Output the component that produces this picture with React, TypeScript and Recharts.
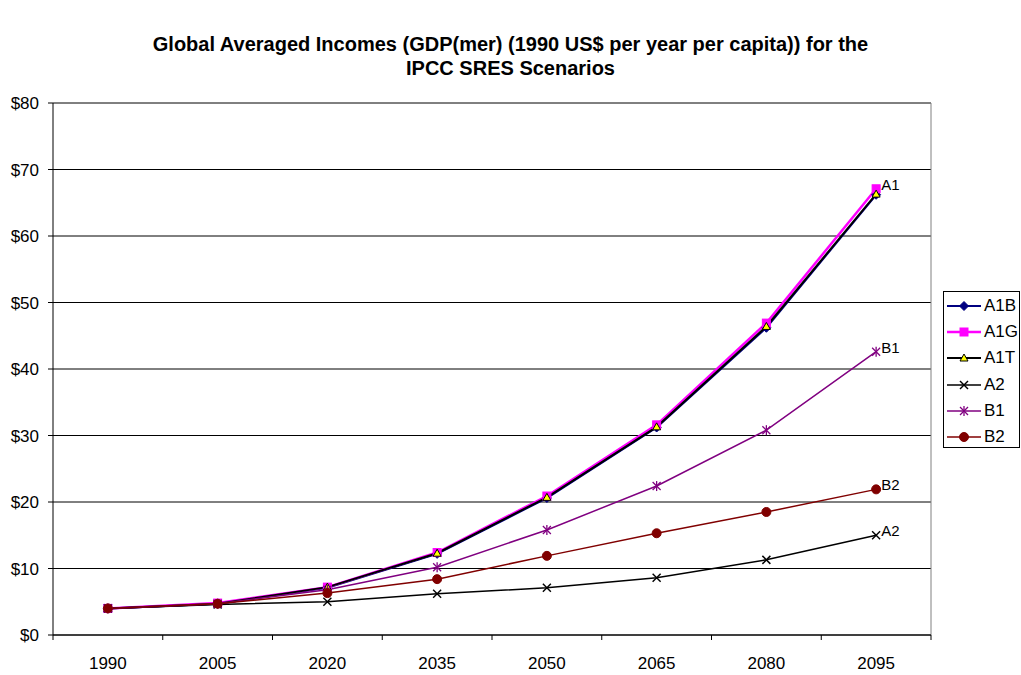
import React from "react";
import { LineChart, Line, XAxis, YAxis, CartesianGrid, ReferenceLine, LabelList } from "recharts";

const YEARS = ["1990", "2005", "2020", "2035", "2050", "2065", "2080", "2095"];
const A1B = [4.0, 4.7, 7.1, 12.2, 20.6, 31.2, 46.2, 66.2];
const A1G = [4.0, 4.8, 7.2, 12.4, 20.9, 31.6, 46.9, 67.1];
const A1T = [4.0, 4.7, 7.2, 12.3, 20.7, 31.3, 46.4, 66.3];
const A2 = [4.0, 4.6, 5.0, 6.2, 7.1, 8.6, 11.3, 15.0];
const B1 = [4.0, 4.7, 6.8, 10.2, 15.8, 22.4, 30.8, 42.6];
const B2 = [4.0, 4.7, 6.3, 8.4, 11.9, 15.3, 18.5, 21.9];
const Y_TICKS = [0, 10, 20, 30, 40, 50, 60, 70, 80];

const TITLE = [
  "Global Averaged Incomes (GDP(mer) (1990 US$ per year per capita)) for the",
  "IPCC SRES Scenarios",
];

type Kind = "diamond" | "square" | "triangle" | "x" | "star" | "circle";

const SERIES: { key: string; values: number[]; color: string; width: number; marker: Kind; label?: string }[] = [
  { key: "A1B", values: A1B, color: "#000080", width: 2, marker: "diamond" },
  { key: "A1G", values: A1G, color: "#FF00FF", width: 2.5, marker: "square", label: "A1" },
  { key: "A1T", values: A1T, color: "#000000", width: 2, marker: "triangle" },
  { key: "A2", values: A2, color: "#000000", width: 1.5, marker: "x", label: "A2" },
  { key: "B1", values: B1, color: "#800080", width: 1.5, marker: "star", label: "B1" },
  { key: "B2", values: B2, color: "#800000", width: 1.5, marker: "circle", label: "B2" },
];

const data = YEARS.map((_, i) => {
  const row: Record<string, number> = { x: i };
  SERIES.forEach((s) => (row[s.key] = s.values[i]));
  return row;
});

const X_TICKS = Array.from({ length: YEARS.length * 2 + 1 }, (_, i) => i / 2 - 0.5);

const FONT = "'Liberation Sans', Arial, sans-serif";

const Marker = ({ kind, cx, cy, color }: { kind: Kind; cx: number; cy: number; color: string }) => {
  if (cx == null || cy == null) return null;
  switch (kind) {
    case "diamond":
      return (
        <polygon
          points={`${cx},${cy - 4.5} ${cx + 4.5},${cy} ${cx},${cy + 4.5} ${cx - 4.5},${cy}`}
          fill={color}
          stroke={color}
        />
      );
    case "square":
      return <rect x={cx - 4} y={cy - 4} width={8} height={8} fill={color} stroke={color} />;
    case "triangle":
      return (
        <polygon
          points={`${cx},${cy - 4} ${cx + 4},${cy + 3} ${cx - 4},${cy + 3}`}
          fill="#FFFF00"
          stroke="#000"
          strokeWidth={1}
        />
      );
    case "x":
      return (
        <g stroke={color} strokeWidth={1.5}>
          <line x1={cx - 4} y1={cy - 4} x2={cx + 4} y2={cy + 4} />
          <line x1={cx - 4} y1={cy + 4} x2={cx + 4} y2={cy - 4} />
        </g>
      );
    case "star":
      return (
        <g stroke={color} strokeWidth={1.3}>
          <line x1={cx - 4} y1={cy - 4} x2={cx + 4} y2={cy + 4} />
          <line x1={cx - 4} y1={cy + 4} x2={cx + 4} y2={cy - 4} />
          <line x1={cx} y1={cy - 5} x2={cx} y2={cy + 5} />
        </g>
      );
    default:
      return <circle cx={cx} cy={cy} r={4.5} fill={color} stroke={color} />;
  }
};

const XTick = (props: any) => {
  const { x, y, payload } = props;
  const v = payload.value as number;
  if (Number.isInteger(v)) {
    return (
      <text x={x} y={y + 34} textAnchor="middle" fontSize={17} fill="#000" fontFamily={FONT}>
        {YEARS[v]}
      </text>
    );
  }
  return <line x1={x} y1={y} x2={x} y2={y + 5} stroke="#000" />;
};

export default function App() {
  return (
    <div style={{ position: "absolute", left: 0, top: 0, width: 1021, height: 675, background: "#fff", fontFamily: FONT }}>
      <div
        style={{
          position: "absolute",
          top: 32,
          left: 0,
          width: 1021,
          textAlign: "center",
          fontWeight: "bold",
          fontSize: 20,
          lineHeight: "24px",
          color: "#000",
        }}
      >
        {TITLE.map((t) => (
          <div key={t}>{t}</div>
        ))}
      </div>
      <LineChart width={1021} height={675} data={data} margin={{ top: 103, right: 90, left: 0, bottom: 0 }}>
        <CartesianGrid vertical={false} stroke="#000" />
        <XAxis
          dataKey="x"
          type="number"
          domain={[-0.5, 7.5]}
          ticks={X_TICKS}
          interval={0}
          tickLine={false}
          tickSize={0}
          tickMargin={0}
          axisLine={{ stroke: "#000" }}
          tick={<XTick />}
          height={40}
        />
        <YAxis
          type="number"
          domain={[0, 80]}
          ticks={Y_TICKS}
          interval={0}
          width={53}
          tickSize={5}
          tickMargin={9}
          axisLine={{ stroke: "#000" }}
          tickLine={{ stroke: "#000" }}
          tick={{ fill: "#000", fontSize: 17, fontFamily: FONT }}
          tickFormatter={(v) => `$${v}`}
        />
        <ReferenceLine y={80} stroke="#808080" />
        <ReferenceLine x={7.5} stroke="#808080" />
        {SERIES.map((s) => (
          <Line
            key={s.key}
            dataKey={s.key}
            name={s.key}
            stroke={s.color}
            strokeWidth={s.width}
            isAnimationActive={false}
            dot={(p: any) => <Marker key={`${s.key}-${p.index}`} kind={s.marker} cx={p.cx} cy={p.cy} color={s.color} />}
            activeDot={false}
          >
            {s.label && (
              <LabelList
                dataKey={s.key}
                content={(p: any) =>
                  p.index === YEARS.length - 1 ? (
                    <text x={p.x + 5} y={p.y + 1} fontSize={15} fill="#000" fontFamily={FONT}>
                      {s.label}
                    </text>
                  ) : null
                }
              />
            )}
          </Line>
        ))}
      </LineChart>
      <div
        style={{
          position: "absolute",
          left: 943,
          top: 291,
          width: 77,
          height: 157,
          boxSizing: "border-box",
          border: "1px solid #000",
          background: "#fff",
        }}
      >
        {SERIES.map((s, i) => (
          <div
            key={s.key}
            style={{ position: "absolute", left: 0, top: 4 + i * 26.2, height: 20, display: "flex", alignItems: "center" }}
          >
            <svg width={40} height={20} style={{ display: "block" }}>
              <line x1={3} y1={10} x2={37} y2={10} stroke={s.color} strokeWidth={s.width} />
              <Marker kind={s.marker} cx={20} cy={10} color={s.color} />
            </svg>
            <span style={{ fontSize: 17, color: "#000", lineHeight: "20px" }}>{s.key}</span>
          </div>
        ))}
      </div>
    </div>
  );
}
